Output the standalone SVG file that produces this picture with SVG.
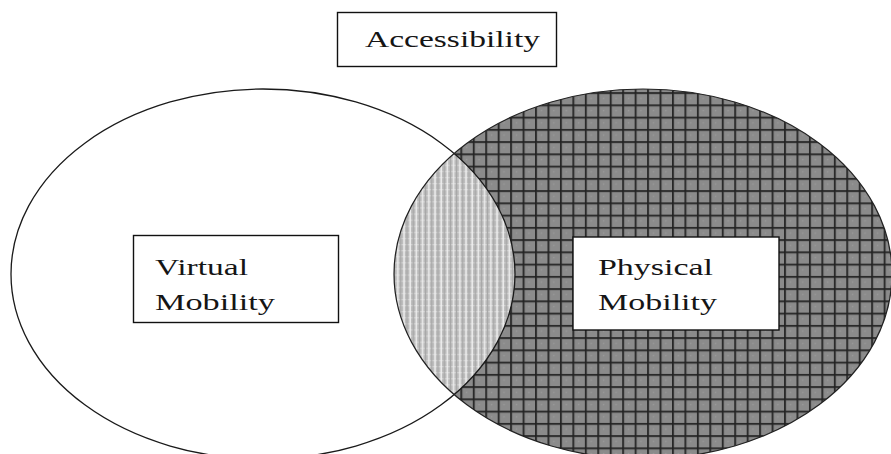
<svg xmlns="http://www.w3.org/2000/svg" width="891" height="454" viewBox="0 0 891 454">
  <style>
    .label { font-family: "Liberation Serif", "Times New Roman", serif; font-size: 23px; fill: #151515; }
    .box { fill: #ffffff; stroke: #111111; stroke-width: 1.4; }
  </style>
  <defs>
    <!-- dark cross-hatch for the physical set -->
    <pattern id="darkGrid" patternUnits="userSpaceOnUse" x="-0.3" y="6.4" width="12.45" height="12.25">
      <rect width="12.45" height="12.25" fill="#8b8b8b"/>
      <rect x="5.6" y="5.5" width="1.4" height="1.4" fill="#9a9a9a"/>
      <line x1="0.8" y1="0" x2="0.8" y2="12.25" stroke="#4a4a4a" stroke-width="2.6"/>
      <line x1="0" y1="0.8" x2="12.45" y2="0.8" stroke="#4a4a4a" stroke-width="2.6"/>
      <line x1="0.8" y1="0" x2="0.8" y2="12.25" stroke="#1e1e1e" stroke-width="1.2"/>
      <line x1="0" y1="0.8" x2="12.45" y2="0.8" stroke="#1e1e1e" stroke-width="1.2"/>
    </pattern>
    <!-- light striped fill for the overlap -->
    <pattern id="lightGrid" patternUnits="userSpaceOnUse" x="0" y="0" width="6.2" height="6.1">
      <rect width="6.2" height="6.1" fill="#bdbdbd"/>
      <line x1="0" y1="0.6" x2="6.2" y2="0.6" stroke="#d6d6d6" stroke-width="1.1"/>
      <line x1="1" y1="0" x2="1" y2="6.1" stroke="#f2f2f2" stroke-width="1.3"/>
      <line x1="4" y1="0" x2="4" y2="6.1" stroke="#a6a6a6" stroke-width="1.2"/>
    </pattern>
    <clipPath id="leftClip">
      <ellipse cx="263" cy="274" rx="252" ry="185"/>
    </clipPath>
  </defs>

  <!-- the two overlapping sets -->
  <g id="virtual-set">
    <ellipse cx="263" cy="274" rx="252" ry="185" fill="#ffffff"/>
  </g>
  <g id="physical-set">
    <ellipse cx="643" cy="274" rx="249" ry="185" fill="url(#darkGrid)"/>
    <ellipse cx="643" cy="274" rx="249" ry="185" fill="url(#lightGrid)" clip-path="url(#leftClip)"/>
  </g>
  <g id="set-outlines" fill="none">
    <ellipse cx="263" cy="274" rx="252" ry="185" stroke="#1a1a1a" stroke-width="1.3"/>
    <ellipse cx="643" cy="274" rx="249" ry="185" stroke="#222222" stroke-width="1.2"/>
  </g>

  <g id="accessibility">
    <rect class="box" x="337.5" y="12.5" width="219" height="54"/>
    <text class="label" x="365" y="47" textLength="175" lengthAdjust="spacingAndGlyphs">Accessibility</text>
  </g>

  <g id="virtual-mobility">
    <rect class="box" x="133.5" y="235.5" width="205" height="87"/>
    <text class="label" x="155" y="275" textLength="93" lengthAdjust="spacingAndGlyphs">Virtual</text>
    <text class="label" x="155" y="310" textLength="120" lengthAdjust="spacingAndGlyphs">Mobility</text>
  </g>

  <g id="physical-mobility">
    <rect class="box" x="573" y="237" width="206" height="93" stroke-width="2.2"/>
    <text class="label" x="598" y="275" textLength="115" lengthAdjust="spacingAndGlyphs">Physical</text>
    <text class="label" x="598" y="310" textLength="119" lengthAdjust="spacingAndGlyphs">Mobility</text>
  </g>
</svg>
